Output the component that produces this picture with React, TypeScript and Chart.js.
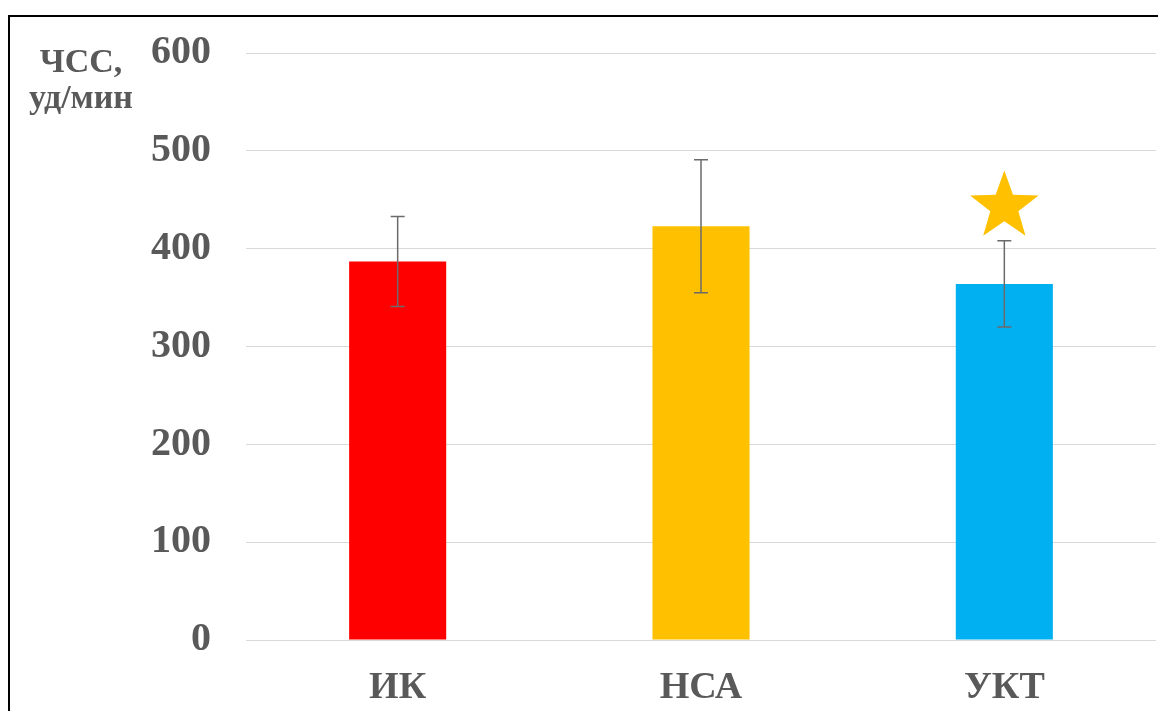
import React, { useEffect, useRef } from "react";
import { Chart, registerables } from "chart.js";

Chart.register(...registerables);

// Heart rate by group: mean ± SD
const categories = ["ИК", "НСА", "УКТ"];
const meanValues = [387, 423, 364];
const sdValues = [46, 68, 44];
const barColors = ["#FF0000", "#FFC000", "#00B0F0"];
const yTickMin = 0;
const yTickMax = 600;
const yTickStep = 100;
const axisTitleLines = ["ЧСС,", "уд/мин"];
// significance marker above a group
const starCategoryIndex = 2;
const starValue = 443;

const FONT = '"Liberation Serif", "Times New Roman", serif';
const TEXT_COLOR = "#595959";

const errorBarPlugin = {
  id: "errorBars",
  afterDatasetsDraw(chart: any) {
    const { ctx, scales } = chart;
    const x = scales.x;
    const y = scales.y;
    ctx.save();
    ctx.strokeStyle = "#6b6b6b";
    ctx.lineWidth = 1.5;
    const cap = 7;
    meanValues.forEach((m, i) => {
      const cx = x.getPixelForValue(i);
      const top = y.getPixelForValue(m + sdValues[i]);
      const bot = y.getPixelForValue(m - sdValues[i]);
      ctx.beginPath();
      ctx.moveTo(cx, top);
      ctx.lineTo(cx, bot);
      ctx.moveTo(cx - cap, top);
      ctx.lineTo(cx + cap, top);
      ctx.moveTo(cx - cap, bot);
      ctx.lineTo(cx + cap, bot);
      ctx.stroke();
    });
    ctx.restore();
  },
};

const starPlugin = {
  id: "starMarker",
  afterDatasetsDraw(chart: any) {
    const { ctx, scales } = chart;
    const cx = scales.x.getPixelForValue(starCategoryIndex);
    const cy = scales.y.getPixelForValue(starValue);
    const outer = 36;
    const inner = outer * 0.41;
    ctx.save();
    ctx.fillStyle = "#FFC000";
    ctx.beginPath();
    for (let k = 0; k < 10; k++) {
      const r = k % 2 === 0 ? outer : inner;
      const a = -Math.PI / 2 + (k * Math.PI) / 5;
      const px = cx + r * Math.cos(a);
      const py = cy + r * Math.sin(a);
      if (k === 0) ctx.moveTo(px, py);
      else ctx.lineTo(px, py);
    }
    ctx.closePath();
    ctx.fill();
    ctx.restore();
  },
};

const axisTitlePlugin = {
  id: "axisTitle",
  afterDraw(chart: any) {
    const { ctx } = chart;
    ctx.save();
    ctx.fillStyle = TEXT_COLOR;
    ctx.font = `bold 34px ${FONT}`;
    ctx.textAlign = "center";
    ctx.textBaseline = "alphabetic";
    ctx.fillText(axisTitleLines[0], 71, 55);
    ctx.fillText(axisTitleLines[1], 71, 91);
    ctx.restore();
  },
};

export default function App() {
  const canvasRef = useRef<HTMLCanvasElement | null>(null);

  useEffect(() => {
    if (!canvasRef.current) return;
    const chart = new Chart(canvasRef.current, {
      type: "bar",
      data: {
        labels: categories,
        datasets: [
          {
            data: meanValues,
            backgroundColor: barColors,
            borderWidth: 0,
            barPercentage: 0.32,
            categoryPercentage: 1,
          },
        ],
      },
      options: {
        animation: false,
        responsive: false,
        devicePixelRatio: 1,
        layout: { padding: { top: 36, right: 2, left: 0, bottom: 0 } },
        plugins: {
          legend: { display: false },
          tooltip: { enabled: false },
        },
        scales: {
          x: {
            grid: { display: false, drawTicks: false },
            border: { display: false },
            ticks: {
              color: TEXT_COLOR,
              font: { family: FONT, size: 38, weight: "bold" },
              padding: 25,
            },
            afterFit(scale: any) {
              scale.height = 63;
              scale.paddingLeft = 0;
              scale.paddingRight = 0;
            },
          },
          y: {
            min: yTickMin,
            max: yTickMax,
            grid: { color: "#d9d9d9", lineWidth: 1, drawTicks: false },
            border: { display: false },
            ticks: {
              stepSize: yTickStep,
              color: TEXT_COLOR,
              font: { family: FONT, size: 40, weight: "bold" },
              padding: 35,
            },
            afterFit(scale: any) {
              scale.width = 236;
              scale.paddingTop = 0;
              scale.paddingBottom = 0;
            },
          },
        },
      },
      plugins: [errorBarPlugin, starPlugin, axisTitlePlugin],
    } as any);
    return () => chart.destroy();
  }, []);

  return (
    <div
      style={{
        position: "fixed",
        left: 8,
        top: 15,
        width: 1150,
        height: 696,
        borderTop: "2px solid #000",
        borderLeft: "2px solid #000",
        boxSizing: "border-box",
        overflow: "hidden",
        background: "#fff",
      }}
    >
      <canvas ref={canvasRef} width={1148} height={686} style={{ display: "block" }} />
    </div>
  );
}
